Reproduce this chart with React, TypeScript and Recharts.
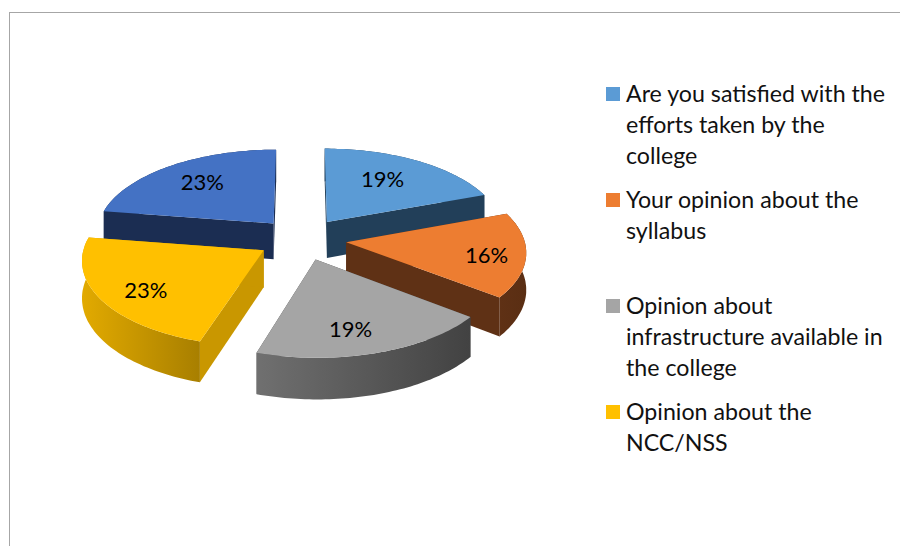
import React from 'react';
import { PieChart, Pie, Legend } from 'recharts';

// slices, clockwise from 12 o'clock
const categories = [
  'Are you satisfied with the efforts taken by the college',
  'Your opinion about the syllabus',
  'Opinion about infrastructure available in the college',
  'Opinion about the NCC/NSS',
  '', // fifth legend entry is cut off in the original
];
const values = [6, 5, 6, 7, 7];

const topColors = ['#5B9BD5', '#ED7D31', '#A5A5A5', '#FFC000', '#4472C4'];
const cutColors = ['#223F59', '#5F3115', '#444444', '#C99700', '#1B2D52'];
const wallColors = [
  ['#223F59', '#223F59'],
  ['#5F3115', '#5A2E13'],
  ['#707070', '#424242'],
  ['#E2AA00', '#A87F00'],
  ['#1B2D52', '#1B2D52'],
];
const labelNudge = [[-9, 0], [15, 3], [-7, 6], [-5, 6], [3, -1]];

// fake 3D projection of the pie plane
const TILT = 0.472;
const PERSPECTIVE = 0.1;
const EXPLODE = 0.25;
const DEPTH = 36.5;
const LABEL_AT = 0.7;

const table = categories.map((name, slot) => ({ name, slot, value: values[slot], fill: topColors[slot] }));

const rad = (deg: number) => (deg * Math.PI) / 180;

const project = (x: number, y: number, p: any, drop = 0) => {
  const s = 1 / (1 + PERSPECTIVE * y);
  return [p.cx + p.outerRadius * x * s, p.cy - p.outerRadius * TILT * y * s + drop * s];
};

// point of an exploded slice: f = distance from its apex, angle in recharts degrees
const slicePoint = (p: any, angle: number, f: number, drop = 0) => {
  const mid = rad(p.midAngle);
  const a = rad(angle);
  return project(EXPLODE * Math.cos(mid) + f * Math.cos(a), EXPLODE * Math.sin(mid) + f * Math.sin(a), p, drop);
};

const toPath = (pts: number[][]) => 'M' + pts.map((q) => `${q[0].toFixed(1)},${q[1].toFixed(1)}`).join('L') + 'Z';

const Slice3D = ({ layer, ...p }: any) => {
  if ((p.slot === 4) !== (layer === 0)) return null;
  const steps = 60;
  const arc: number[] = [];
  for (let i = 0; i <= steps; i++) arc.push(p.startAngle + ((p.endAngle - p.startAngle) * i) / steps);

  const top = arc.map((a) => slicePoint(p, a, 1));
  const bottom = arc.map((a) => slicePoint(p, a, 1, DEPTH));
  const apex = slicePoint(p, p.startAngle, 0);
  const apexLow = slicePoint(p, p.startAngle, 0, DEPTH);
  const gradId = `wall-${p.slot}`;

  return (
    <g>
      <defs>
        <linearGradient id={gradId} x1="0" x2="1" y1="0" y2="0">
          <stop offset="0%" stopColor={wallColors[p.slot][0]} />
          <stop offset="100%" stopColor={wallColors[p.slot][1]} />
        </linearGradient>
      </defs>
      <path d={toPath([apex, top[0], bottom[0], apexLow])} fill={cutColors[p.slot]} />
      <path d={toPath([apex, top[steps], bottom[steps], apexLow])} fill={cutColors[p.slot]} />
      <path d={toPath([...top, ...[...bottom].reverse()])} fill={`url(#${gradId})`} />
      <path d={toPath([apex, ...top])} fill={topColors[p.slot]} />
    </g>
  );
};

const renderPercent = (p: any) => {
  const [x, y] = slicePoint(p, p.midAngle, LABEL_AT);
  const nudge = labelNudge[p.index];
  return (
    <text x={x + nudge[0]} y={y + nudge[1]} textAnchor="middle" dominantBaseline="central" fill="#000" fontSize={22} fontFamily="Lato">
      {`${Math.round(p.percent * 100)}%`}
    </text>
  );
};

const renderLegend = ({ payload }: any) => {
  // two Pie layers share the same table, so keep each name once
  const seen = new Set<string>();
  const items = (payload || []).filter((e: any) => {
    if (!e.value || seen.has(e.value)) return false;
    seen.add(e.value);
    return true;
  });
  items.sort((a: any, b: any) => categories.indexOf(a.value) - categories.indexOf(b.value));
  return (
    <div style={{ fontFamily: 'Lato', fontSize: 23.2, lineHeight: '31px', color: '#111' }}>
      {items.map((e: any) => (
        <div key={e.value} style={{ position: 'relative', height: 106, paddingLeft: 20 }}>
          <span style={{ position: 'absolute', left: 0, top: 9, width: 14, height: 14, background: e.color }} />
          {e.value}
        </div>
      ))}
    </div>
  );
};

export default function App() {
  return (
    <div style={{ position: 'relative', width: 900, height: 546, overflow: 'hidden' }}>
      <style>{'body{margin:0;overflow:hidden}'}</style>
      <div style={{ position: 'absolute', left: 9, top: 12, width: 900, height: 540, borderTop: '1.5px solid #A6A6A6', borderLeft: '1.5px solid #A6A6A6' }} />
      <PieChart width={900} height={546} margin={{ top: 0, right: 0, bottom: 0, left: 0 }} style={{ position: 'absolute', left: 0, top: 0 }}>
        <Pie
          data={table}
          dataKey="value"
          nameKey="name"
          cx={302}
          cy={239}
          outerRadius={178}
          startAngle={90}
          endAngle={-270}
          stroke="none"
          legendType="none"
          label={false}
          labelLine={false}
          isAnimationActive={false}
          shape={(p: any) => <Slice3D {...p} layer={0} />}
        />
        <Pie
          data={table}
          dataKey="value"
          nameKey="name"
          cx={302}
          cy={239}
          outerRadius={178}
          startAngle={90}
          endAngle={-270}
          stroke="none"
          label={renderPercent}
          labelLine={false}
          isAnimationActive={false}
          shape={(p: any) => <Slice3D {...p} layer={1} />}
        />
        <Legend
          layout="vertical"
          content={renderLegend}
          wrapperStyle={{ position: 'absolute', left: 606, top: 78, width: 290, bottom: 'auto' }}
        />
      </PieChart>
    </div>
  );
}
